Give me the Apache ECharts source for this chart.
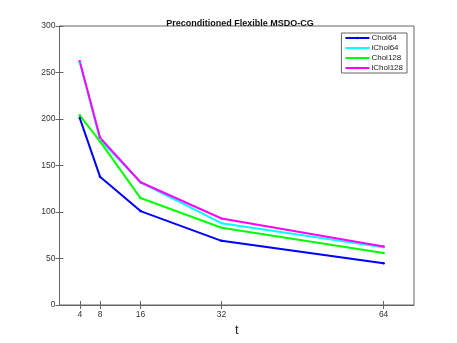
<!DOCTYPE html>
<html>
<head>
<meta charset="utf-8">
<script src="https://cdn.jsdelivr.net/npm/echarts@6/dist/echarts.min.js"></script>
<style>
html,body{margin:0;padding:0;background:#fff;}
#chart{width:457px;height:343px;}
</style>
</head>
<body>
<div id="chart"></div>
<script>
// t values and iteration counts
const tValues = [4, 8, 16, 32, 64];
const chol64 = [201, 138, 101, 69, 45];
const ichol64 = [261, 178, 132, 88, 62];
const chol128 = [204, 176, 115, 83, 56];
const ichol128 = [262, 180, 132, 93, 63];

const axisColor = '#666';
const font = 'Liberation Sans, Arial, sans-serif';
const labelStyle = {color: '#333', fontSize: 8.5, fontFamily: font};

function pairs(arr){
    return tValues.map((t, i) => [t, arr[i]]);
}
function line(name, data, color){
    return {
        name: name,
        type: 'line',
        data: pairs(data),
        symbol: 'circle',
        symbolSize: 2.5,
        lineStyle: {color: color, width: 2},
        itemStyle: {color: color},
        animation: false
    };
}

const chart = echarts.init(document.getElementById('chart'));
chart.setOption({
    backgroundColor: '#fff',
    title: {
        text: 'Preconditioned Flexible MSDO-CG',
        left: 235, top: 14,
        textAlign: 'center',
        textStyle: {fontSize: 9, fontWeight: 'bold', color: '#111', fontFamily: font}
    },
    legend: {
        orient: 'vertical',
        right: 50, top: 33,
        itemWidth: 24, itemHeight: 3,
        itemGap: 2,
        padding: [1, 4, 1, 3],
        borderColor: '#666', borderWidth: 1,
        backgroundColor: '#fff',
        textStyle: {fontSize: 8, color: '#222', fontFamily: font, padding: [0, 0, 0, -3]},
        data: ['Chol64', 'iChol64', 'Chol128', 'iChol128']
    },
    grid: {left: 59.5, right: 43, top: 26, bottom: 38, show: true, borderColor: axisColor, borderWidth: 1},
    xAxis: [{
        type: 'value', min: 0, max: 70,
        name: 't', nameLocation: 'middle', nameGap: 16,
        nameTextStyle: {fontSize: 13, color: '#222', fontFamily: font},
        axisLine: {lineStyle: {color: axisColor}},
        axisTick: {inside: true, length: 4, customValues: tValues, lineStyle: {color: axisColor}},
        axisLabel: Object.assign({customValues: tValues, margin: 5}, labelStyle),
        splitLine: {show: false}
    }, {
        type: 'value', min: 0, max: 70, position: 'top',
        axisLine: {show: false},
        axisTick: {inside: true, length: 4, customValues: tValues, lineStyle: {color: axisColor}},
        axisLabel: {show: false},
        splitLine: {show: false}
    }],
    yAxis: [{
        type: 'value', min: 0, max: 300, interval: 50, position: 'left',
        axisLine: {show: true, onZero: false, lineStyle: {color: axisColor}},
        axisTick: {show: true, inside: true, length: 4, lineStyle: {color: axisColor}},
        axisLabel: Object.assign({margin: 4}, labelStyle),
        splitLine: {show: false}
    }, {
        type: 'value', min: 0, max: 300, interval: 50, position: 'right',
        axisLine: {show: false},
        axisTick: {show: true, inside: true, length: 4, lineStyle: {color: axisColor}},
        axisLabel: {show: false},
        splitLine: {show: false}
    }],
    series: [
        line('Chol64', chol64, '#0000ff'),
        line('iChol64', ichol64, '#00ffff'),
        line('Chol128', chol128, '#00ff00'),
        line('iChol128', ichol128, '#ff00ff')
    ]
});
</script>
</body>
</html>
